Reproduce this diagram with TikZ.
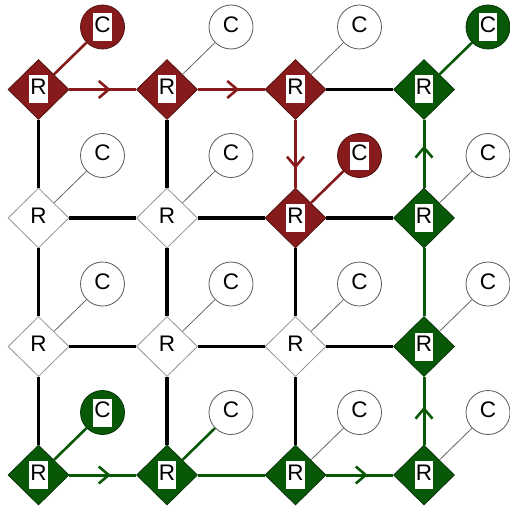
\documentclass[tikz,border=0pt]{standalone}
\usepackage{fontspec}
\setmainfont{Liberation Sans}
\usetikzlibrary{shapes.geometric,arrows.meta,decorations.markings}
\definecolor{nred}{RGB}{135,26,26}
\definecolor{ngreen}{RGB}{8,88,8}
\newcommand\lbl[1]{{\setlength{\fboxsep}{1pt}\colorbox{white}{\strut #1}}}
\begin{document}
\begin{tikzpicture}[x=1pt,y=-1pt,
  labelfont/.style={font=\fontsize{22.5}{26}\selectfont},
  router/.style={diamond,draw=gray!85,line width=0.8pt,fill=white,minimum width=61pt,minimum height=60pt,inner sep=0pt,labelfont},
  core/.style={circle,draw=black!65,line width=0.8pt,fill=white,minimum size=44pt,inner sep=0pt,labelfont},
  plain/.style={},
  redn/.style={fill=nred,draw=nred!60!black},
  greenn/.style={fill=ngreen,draw=ngreen!60!black},
  link/.style={line width=3.2pt,black},
  clink/.style={line width=0.8pt,black!60},
  redc/.style={line width=2.6pt,nred},
  greenc/.style={line width=2.6pt,ngreen},
  rpath/.style={line width=3pt,nred},
  gpath/.style={line width=3pt,ngreen},
  arrowmid/.style={postaction={decorate},decoration={markings,mark=at position #1 with {\arrow{Straight Barb[length=10pt,width=17pt,line width=2.6pt]}}}},
  arrowmid/.default=0.62
]
\useasboundingbox (0,0) rectangle (510,508);
% routers
\foreach \i/\j/\st in {0/0/redn,1/0/redn,2/0/redn,3/0/greenn,
  0/1/plain,1/1/plain,2/1/redn,3/1/greenn,
  0/2/plain,1/2/plain,2/2/plain,3/2/greenn,
  0/3/greenn,1/3/greenn,2/3/greenn,3/3/greenn}
  \node[router,\st] (r\i\j) at ({38.5+128.5*\i},{89.5+128.5*\j}) {\lbl{R}};
% cores
\foreach \i/\j/\st in {0/0/redn,1/0/plain,2/0/plain,3/0/greenn,
  0/1/plain,1/1/plain,2/1/redn,3/1/plain,
  0/2/plain,1/2/plain,2/2/plain,3/2/plain,
  0/3/greenn,1/3/plain,2/3/plain,3/3/plain}
  \node[core,\st] (c\i\j) at ({102.5+128.5*\i},{27+128.5*\j}) {\lbl{C}};
% router-core links
\foreach \i/\j/\st in {0/0/redc,1/0/clink,2/0/clink,3/0/greenc,
  0/1/clink,1/1/clink,2/1/redc,3/1/clink,
  0/2/clink,1/2/clink,2/2/clink,3/2/clink,
  0/3/greenc,1/3/greenc,2/3/clink,3/3/clink}
  \draw[\st] (r\i\j) -- (c\i\j);
% black mesh links
\foreach \a/\b in {20/30,01/11,11/21,21/31,02/12,12/22,22/32,
  00/01,01/02,02/03,10/11,11/12,12/13,21/22,22/23}
  \draw[link] (r\a) -- (r\b);
% red path
\draw[rpath,arrowmid] (r00) -- (r10);
\draw[rpath,arrowmid] (r10) -- (r20);
\draw[rpath,arrowmid=0.72] (r20) -- (r21);
% green path
\draw[gpath,arrowmid] (r03) -- (r13);
\draw[gpath] (r13) -- (r23);
\draw[gpath,arrowmid] (r23) -- (r33);
\draw[gpath,arrowmid=0.56] (r33) -- (r32);
\draw[gpath] (r32) -- (r31);
\draw[gpath,arrowmid] (r31) -- (r30);
\end{tikzpicture}
\end{document}
